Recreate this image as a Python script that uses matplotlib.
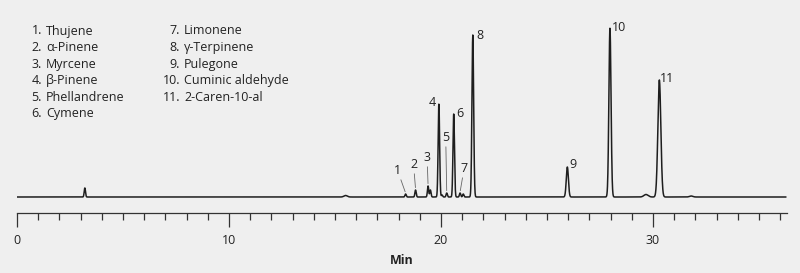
import numpy as np
import matplotlib.pyplot as plt

plt.rcParams['font.family'] = ['Open Sans', 'DejaVu Sans']

# compound list (legend)
compounds = ["Thujene", "α-Pinene", "Myrcene", "β-Pinene", "Phellandrene",
             "Cymene", "Limonene", "γ-Terpinene", "Pulegone",
             "Cuminic aldehyde", "2-Caren-10-al"]

# peaks: retention time (min), height, width (sigma, min)
peak_rt = [3.2, 15.5, 18.33, 18.8, 19.39, 19.5, 19.9, 20.05, 20.27, 20.6,
           20.9, 21.05, 21.5, 25.96, 27.97, 29.67, 30.3, 31.8]
peak_h = [9, 1.5, 3, 7, 11, 7, 93, 2, 4, 83, 4, 3, 162, 30, 169, 2.5, 117, 1]
peak_w = [0.03, 0.08, 0.03, 0.03, 0.03, 0.03, 0.035, 0.03, 0.03, 0.035,
          0.03, 0.03, 0.04, 0.05, 0.05, 0.1, 0.07, 0.08]

# numbered labels: index into the peak list, text offset in pixels, leader line?
label_num = [1, 2, 3, 4, 5, 6, 7, 8, 9, 10, 11]
label_peak = [2, 3, 4, 6, 8, 9, 10, 12, 13, 14, 16]
label_dx = [-8, -2, -1, -7, -1, 6, 4, 7, 6, 9, 8]
label_dy = [16, 18, 21, 2, 48, 1, 17, 0, 3, 1, 2]
label_leader = [True, True, True, False, True, False, True, False, False, False, False]

t = np.linspace(0, 36.26, 6000)
sig = np.zeros_like(t)
for rt, h, w in zip(peak_rt, peak_h, peak_w):
    sig += h * np.exp(-0.5 * ((t - rt) / w) ** 2)

bg = '#efefef'
fig = plt.figure(figsize=(8, 2.73), dpi=100, facecolor=bg)
W, H = 800, 273
x0, x1 = 17, 17 + 36.3 * 21.2
ax = fig.add_axes([x0 / W, 1 - 213 / H, (x1 - x0) / W, (213 - 20) / H])
ax.set_facecolor(bg)
ax.plot(t, sig, color='#1e1e1e', lw=1.1)
ax.set_xlim(0, 36.3)
ax.set_ylim(-16, 177)

for s in ['top', 'right', 'left']:
    ax.spines[s].set_visible(False)
ax.spines['bottom'].set_color('#333333')
ax.spines['bottom'].set_linewidth(0.9)
ax.set_yticks([])
ax.set_xticks([0, 10, 20, 30])
ax.set_xticks(np.arange(0, 37, 1), minor=True)
ax.tick_params(axis='x', which='major', length=10, width=0.9, color='#333333',
               labelsize=9, pad=5, labelcolor='#222222')
ax.tick_params(axis='x', which='minor', length=5, width=0.9, color='#333333')
ax.set_xlabel('Min', fontsize=9, fontweight='bold', labelpad=5, color='#222222')

for n, pi, dx, dy, lead in zip(label_num, label_peak, label_dx, label_dy, label_leader):
    xp, yp = peak_rt[pi], sig[np.argmin(abs(t - peak_rt[pi]))]
    if lead:
        ax.annotate(str(n), xy=(xp, yp + 1), xytext=(dx, dy), textcoords='offset pixels',
                    ha='center', va='bottom', fontsize=9, color='#222222',
                    arrowprops=dict(arrowstyle='-', color='#666666', lw=0.6,
                                    shrinkA=0, shrinkB=1))
    else:
        ax.annotate(str(n), xy=(xp, yp), xytext=(dx, dy), textcoords='offset pixels',
                    ha='center', va='center', fontsize=9, color='#222222')

# compound legend in two columns
num_x = [42, 180]
for i, name in enumerate(compounds):
    col = 0 if i < 6 else 1
    row = i if i < 6 else i - 6
    y = 31 + row * 16.5
    fig.text(num_x[col] / W, 1 - y / H, f"{i + 1}.", ha='right', va='center',
             fontsize=9, color='#222222')
    fig.text((num_x[col] + 4) / W, 1 - y / H, name, ha='left', va='center',
             fontsize=9, color='#222222')

fig.savefig('out.png', dpi=100, facecolor=bg)
